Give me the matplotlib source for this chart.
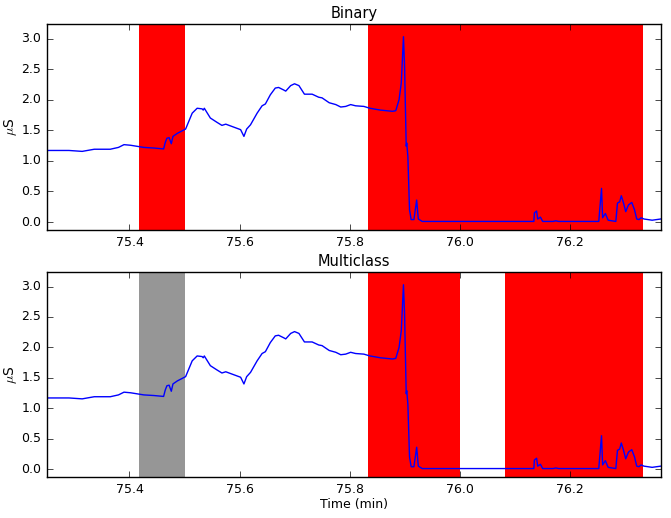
import matplotlib

matplotlib.use("Agg")
import matplotlib.pyplot as plt

# EDA trace (time in minutes, conductance in microsiemens)
time_min = [
    75.250, 75.290, 75.314, 75.336, 75.365, 75.380, 75.390, 75.402, 75.426, 75.444,
    75.462, 75.465, 75.468, 75.472, 75.476, 75.479, 75.487, 75.502, 75.514, 75.523,
    75.532, 75.534, 75.536, 75.547, 75.559, 75.568, 75.575, 75.590, 75.602, 75.608,
    75.613, 75.620, 75.632, 75.641, 75.647, 75.656, 75.665, 75.671, 75.680, 75.684,
    75.693, 75.700, 75.708, 75.718, 75.732, 75.744, 75.750, 75.763, 75.775, 75.784,
    75.793, 75.802, 75.811, 75.826, 75.837, 75.856, 75.878, 75.884, 75.890, 75.894,
    75.898, 75.900, 75.903, 75.904, 75.906, 75.909, 75.912, 75.917, 75.922, 75.925,
    75.932, 76.000, 76.080, 76.135, 76.136, 76.140, 76.142, 76.147, 76.151, 76.170,
    76.175, 76.180, 76.253, 76.258, 76.260, 76.265, 76.270, 76.284, 76.287, 76.291,
    76.294, 76.298, 76.302, 76.307, 76.313, 76.318, 76.322, 76.326, 76.330, 76.335,
    76.350, 76.366,
]
eda_us = [
    1.17, 1.17, 1.155, 1.19, 1.19, 1.22, 1.265, 1.255, 1.22, 1.21,
    1.195, 1.30, 1.37, 1.38, 1.28, 1.40, 1.45, 1.52, 1.78, 1.86,
    1.85, 1.83, 1.86, 1.70, 1.63, 1.58, 1.60, 1.55, 1.51, 1.40,
    1.52, 1.59, 1.78, 1.90, 1.93, 2.08, 2.19, 2.20, 2.16, 2.14,
    2.23, 2.26, 2.23, 2.09, 2.09, 2.04, 2.03, 1.95, 1.92, 1.88,
    1.89, 1.92, 1.90, 1.89, 1.86, 1.83, 1.81, 1.82, 2.00, 2.27,
    3.03, 2.54, 1.24, 1.29, 1.07, 0.20, 0.04, 0.04, 0.36, 0.05,
    0.01, 0.01, 0.01, 0.01, 0.15, 0.18, 0.05, 0.08, 0.01, 0.01,
    0.02, 0.01, 0.01, 0.55, 0.07, 0.14, 0.03, 0.01, 0.31, 0.33,
    0.43, 0.31, 0.17, 0.28, 0.32, 0.20, 0.05, 0.04, 0.07, 0.05,
    0.03, 0.05,
]

# classified 5-second windows: (start, end, colour)
binary_spans = [(75.4167, 75.5000, "red"), (75.8333, 76.3333, "red")]
multiclass_spans = [
    (75.4167, 75.5000, "#969696"),
    (75.8333, 76.0000, "red"),
    (76.0833, 76.3333, "red"),
]
titles = ["Binary", "Multiclass"]

plt.style.use("classic")
fig = plt.figure(figsize=(6.71, 5.18), dpi=100)
ax_top = fig.add_axes([0.070, 0.556, 0.915, 0.398])
ax_bot = fig.add_axes([0.070, 0.079, 0.915, 0.396])

for ax, spans, title in zip([ax_top, ax_bot], [binary_spans, multiclass_spans], titles):
    for start, end, colour in spans:
        ax.axvspan(start, end, facecolor=colour, edgecolor="none", linewidth=0)
    ax.plot(time_min, eda_us, color="b", linewidth=1.0)
    ax.set_xlim(75.25, 76.366)
    ax.set_ylim(-0.13, 3.24)
    ax.set_xticks([75.4, 75.6, 75.8, 76.0, 76.2])
    ax.set_yticks([0.0, 0.5, 1.0, 1.5, 2.0, 2.5, 3.0])
    ax.ticklabel_format(useOffset=False)
    ax.tick_params(labelsize=9)
    ax.set_title(title, fontsize=10.5, pad=4)
    ax.set_ylabel(r"$\mu$S", fontsize=10)
    ax.yaxis.set_label_coords(-0.045, 0.5)

ax_bot.set_xlabel("Time (min)", fontsize=9, labelpad=2)

fig.savefig("out.png", dpi=100)
